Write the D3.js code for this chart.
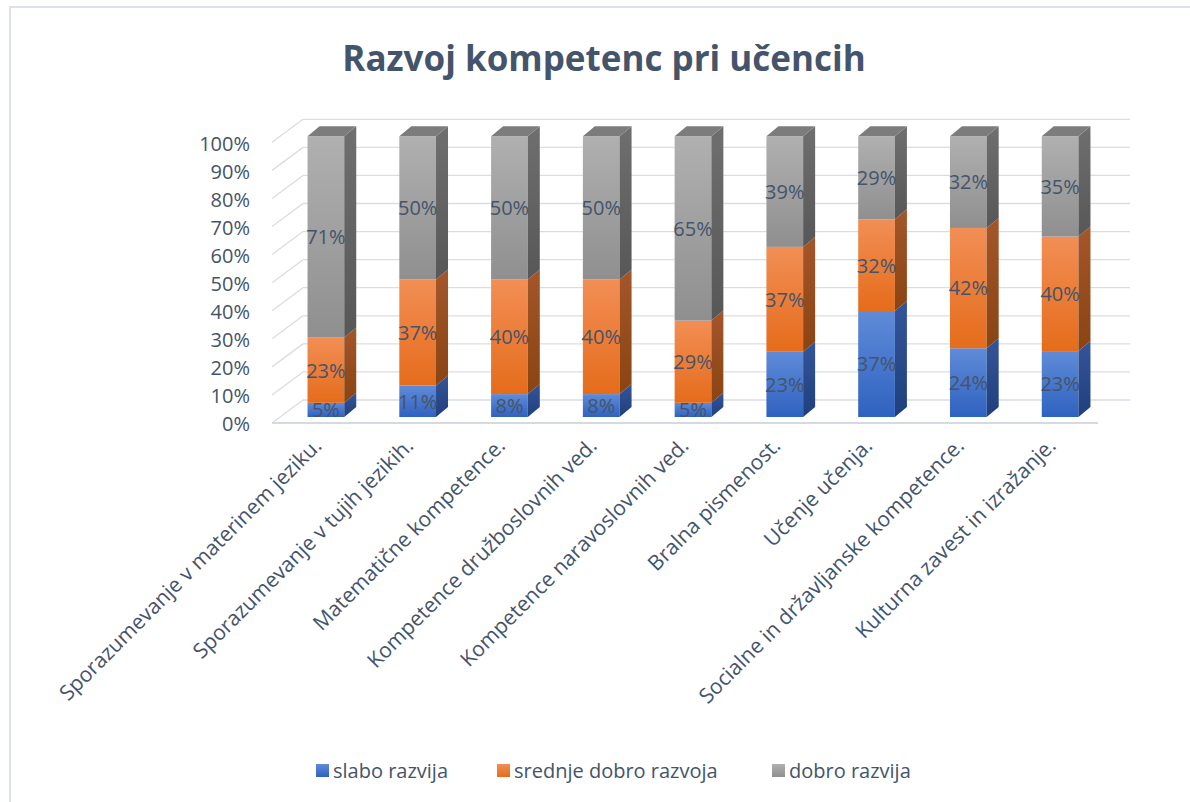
<!DOCTYPE html>
<html>
<head>
<meta charset="utf-8">
<script src="https://cdn.jsdelivr.net/npm/d3@7"></script>
<style>
  body { margin: 0; background: #fff; }
  svg text { font-family: "Open Sans", Lato, sans-serif; fill: #44546a; }
</style>
</head>
<body>
<div id="chart"></div>
<script>
// chart data
const categories = [
  'Sporazumevanje v materinem jeziku.',
  'Sporazumevanje v tujih jezikih.',
  'Matematične kompetence.',
  'Kompetence družboslovnih ved.',
  'Kompetence naravoslovnih ved.',
  'Bralna pismenost.',
  'Učenje učenja.',
  'Socialne in državljanske kompetence.',
  'Kulturna zavest in izražanje.'
];
const seriesNames = ['slabo razvija', 'srednje dobro razvoja', 'dobro razvija'];
const slabo = [5, 11, 8, 8, 5, 23, 37, 24, 23];
const srednje = [23, 37, 40, 40, 29, 37, 32, 42, 40];
const dobro = [71, 50, 50, 50, 65, 39, 29, 32, 35];
const yTicks = [0, 10, 20, 30, 40, 50, 60, 70, 80, 90, 100];

const width = 1190, height = 802;

// face colours per series: [front top, front bottom, side top, side bottom, top face]
const palette = [
  ['#5f8bd8', '#2f62c0', '#34559a', '#1f3f7c', '#2a4f96'],
  ['#f28e55', '#e56c1b', '#a3562a', '#8a4412', '#b35e22'],
  ['#b0b0b0', '#8f8f8f', '#6f6f6f', '#575757', '#7c7c7c']
];

const svg = d3.select('#chart').append('svg')
  .attr('width', width)
  .attr('height', height);

// chart border
svg.append('rect')
  .attr('x', 10).attr('y', 7)
  .attr('width', width + 10).attr('height', height + 10)
  .attr('fill', 'none')
  .attr('stroke', '#dde1e8')
  .attr('stroke-width', 2);

// gradients
const defs = svg.append('defs');
palette.forEach((c, i) => {
  [['front', c[0], c[1]], ['side', c[2], c[3]]].forEach(([name, a, b]) => {
    const g = defs.append('linearGradient')
      .attr('id', `g-${name}-${i}`)
      .attr('x1', 0).attr('y1', 0).attr('x2', 0).attr('y2', 1);
    g.append('stop').attr('offset', '0%').attr('stop-color', a);
    g.append('stop').attr('offset', '100%').attr('stop-color', b);
  });
});

// title
svg.append('text')
  .attr('x', 604)
  .attr('y', 71)
  .attr('text-anchor', 'middle')
  .style('font-size', '35px')
  .style('font-weight', 'bold')
  .text('Razvoj kompetenc pri učencih');

// 3D geometry: depth offset of the back wall, and of the bar faces
const depth = { dx: 31, dy: -23 };
const barFront = { dx: 8, dy: -6 };
const barBack = { dx: 20, dy: -16 };

const x = d3.scaleBand()
  .domain(categories)
  .range([272, 1098])
  .paddingInner(0.6)
  .paddingOuter(0.3);

const y = d3.scaleLinear().domain([0, 100]).range([423, 142.3]);

const grid = svg.append('g');

// back wall and side wall gridlines
yTicks.forEach(t => {
  const yf = y(t);
  grid.append('line')
    .attr('x1', 272 + depth.dx).attr('x2', 1130)
    .attr('y1', yf + depth.dy).attr('y2', yf + depth.dy)
    .attr('stroke', '#d9dde4').attr('stroke-width', 1.3);
  grid.append('line')
    .attr('x1', 272).attr('x2', 272 + depth.dx)
    .attr('y1', yf).attr('y2', yf + depth.dy)
    .attr('stroke', '#d9dde4').attr('stroke-width', 1.3);
});
// floor front edge
grid.append('line')
  .attr('x1', 272).attr('x2', 1098)
  .attr('y1', y(0)).attr('y2', y(0))
  .attr('stroke', '#d5d9e0').attr('stroke-width', 2);

// y axis labels
svg.append('g').selectAll('text')
  .data(yTicks)
  .join('text')
  .attr('x', 250)
  .attr('y', d => y(d) + 3)
  .attr('text-anchor', 'end')
  .attr('dominant-baseline', 'middle')
  .style('font-size', '20px')
  .text(d => d + '%');

// stack the series (100% stacked)
const rows = categories.map((c, i) => ({ cat: c, s0: slabo[i], s1: srednje[i], s2: dobro[i] }));
const stack = d3.stack().keys(['s0', 's1', 's2']).offset(d3.stackOffsetExpand);
const series = stack(rows);
const raw = { s0: slabo, s1: srednje, s2: dobro };

const bars = svg.append('g');
const labels = [];

categories.forEach((cat, ci) => {
  const x0 = x(cat) + barFront.dx;
  const w = x.bandwidth();
  const sx = barBack.dx - barFront.dx;
  const sy = barBack.dy - barFront.dy;
  series.forEach((s, si) => {
    const d = s[ci];
    const yTop = y(d[1] * 100) + barFront.dy;
    const yBot = y(d[0] * 100) + barFront.dy;
    // front face
    bars.append('rect')
      .attr('x', x0).attr('y', yTop)
      .attr('width', w).attr('height', yBot - yTop)
      .attr('fill', `url(#g-front-${si})`);
    // side face
    bars.append('path')
      .attr('d', `M${x0 + w},${yBot} L${x0 + w + sx},${yBot + sy} L${x0 + w + sx},${yTop + sy} L${x0 + w},${yTop} Z`)
      .attr('fill', `url(#g-side-${si})`);
    // top face on the last segment
    if (si === series.length - 1) {
      bars.append('path')
        .attr('d', `M${x0},${yTop} L${x0 + sx},${yTop + sy} L${x0 + w + sx},${yTop + sy} L${x0 + w},${yTop} Z`)
        .attr('fill', palette[si][4]);
    }
    labels.push({ x: x0 + w / 2, y: (yTop + yBot) / 2, v: raw[s.key][ci] });
  });
});

// data labels
svg.append('g').selectAll('text')
  .data(labels)
  .join('text')
  .attr('x', d => d.x)
  .attr('y', d => d.y + 2)
  .attr('text-anchor', 'middle')
  .attr('dominant-baseline', 'middle')
  .style('font-size', '20px')
  .text(d => d.v + '%');

// category labels, rotated
svg.append('g').selectAll('text')
  .data(categories)
  .join('text')
  .attr('transform', d => `translate(${x(d) + barFront.dx + x.bandwidth() / 2 - 3},${447}) rotate(-45)`)
  .attr('text-anchor', 'end')
  .style('font-size', '21px')
  .text(d => d);

// legend
const legendX = [316, 497, 772];
const legend = svg.append('g');
seriesNames.forEach((name, i) => {
  const lg = defs.append('linearGradient')
    .attr('id', `g-leg-${i}`)
    .attr('x1', 0).attr('y1', 0).attr('x2', 0).attr('y2', 1);
  lg.append('stop').attr('offset', '0%').attr('stop-color', palette[i][0]);
  lg.append('stop').attr('offset', '100%').attr('stop-color', palette[i][1]);
  legend.append('rect')
    .attr('x', legendX[i]).attr('y', 764)
    .attr('width', 13).attr('height', 13)
    .attr('fill', `url(#g-leg-${i})`);
  legend.append('text')
    .attr('x', legendX[i] + 17)
    .attr('y', 778)
    .style('font-size', '20px')
    .text(name);
});
</script>
</body>
</html>
